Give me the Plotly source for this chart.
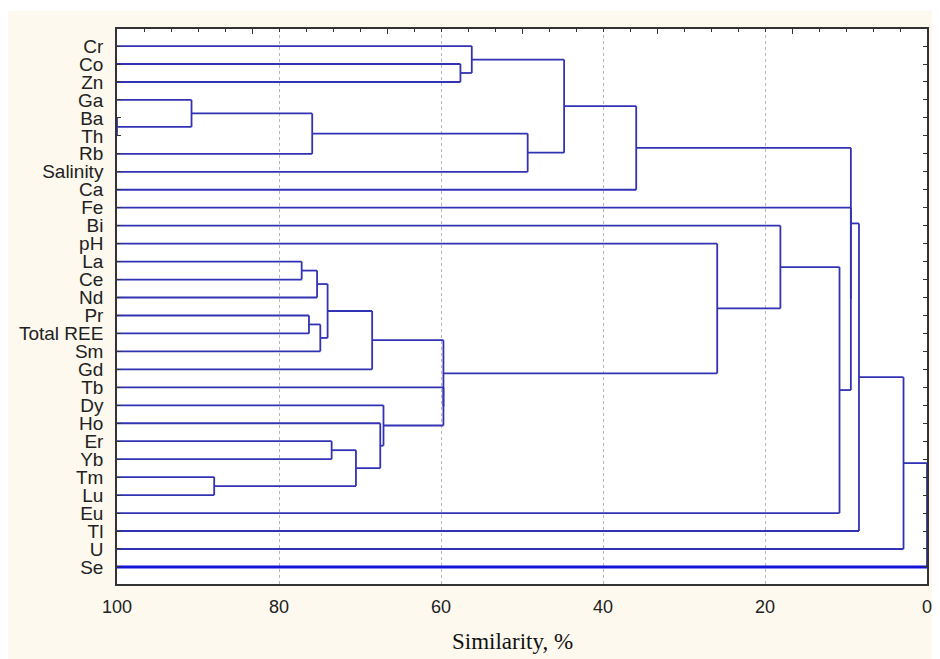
import plotly.graph_objects as go

# ---------------- data ----------------
leaves = ["Cr", "Co", "Zn", "Ga", "Ba", "Th", "Rb", "Salinity", "Ca", "Fe", "Bi", "pH",
          "La", "Ce", "Nd", "Pr", "Total REE", "Sm", "Gd", "Tb", "Dy", "Ho", "Er", "Yb",
          "Tm", "Lu", "Eu", "Tl", "U", "Se"]

# merges: node k joins merge_left[k] and merge_right[k] at merge_similarity[k] (%)
merge_left = ["Ba", "Ga", "n1", "n2", "Co", "Cr", "n5", "n6",
              "La", "n8", "Pr", "n10", "n9", "n12", "Er", "Tm", "n14", "Ho", "Dy", "Tb", "n13",
              "pH", "Bi", "n22", "Fe", "n7", "n25", "n26", "n27"]
merge_right = ["Th", "n0", "Rb", "Salinity", "Zn", "n4", "n3", "Ca",
               "Ce", "Nd", "Total REE", "Sm", "n11", "Gd", "Yb", "Lu", "n15", "n16", "n17", "n18", "n19",
               "n20", "n21", "Eu", "n23", "n24", "Tl", "U", "Se"]
merge_similarity = [100.0, 90.8, 75.9, 49.3, 57.6, 56.2, 44.8, 35.9,
                    77.2, 75.3, 76.3, 74.9, 74.0, 68.5, 73.5, 88.0, 70.5, 67.5, 67.1, 59.7, 59.7,
                    25.9, 18.1, 10.8, 9.4, 9.4, 8.4, 2.9, 0.0]

x_ticks = [100, 80, 60, 40, 20, 0]
x_title = "Similarity, %"

# ---------------- build dendrogram segments ----------------
pos_y = {name: i for i, name in enumerate(leaves)}
pos_x = {name: 100.0 for name in leaves}

seg_x, seg_y = [], []
thick_x, thick_y = [], []
for k, (a, b, s) in enumerate(zip(merge_left, merge_right, merge_similarity)):
    for child in (a, b):
        xs = [pos_x[child], s, None]
        ys = [pos_y[child], pos_y[child], None]
        if child == "Se":
            thick_x += xs
            thick_y += ys
        else:
            seg_x += xs
            seg_y += ys
    seg_x += [s, s, None]
    seg_y += [pos_y[a], pos_y[b], None]
    node = f"n{k}"
    pos_y[node] = (pos_y[a] + pos_y[b]) / 2
    pos_x[node] = s

fig = go.Figure()
fig.add_trace(go.Scatter(x=seg_x, y=seg_y, mode="lines",
                         line=dict(color="#3232b4", width=1.8),
                         hoverinfo="skip", showlegend=False))
fig.add_trace(go.Scatter(x=thick_x, y=thick_y, mode="lines",
                         line=dict(color="#1414d8", width=3),
                         hoverinfo="skip", showlegend=False))
# invisible trace for top axis
fig.add_trace(go.Scatter(x=[50], y=[0], xaxis="x2", mode="markers",
                         marker=dict(opacity=0), hoverinfo="skip", showlegend=False))

OFF = 8  # page body margin
W, H = 940 - OFF, 659 - OFF
PL, PR, PT, PB = 117, 927, 29, 584  # plot area in page pixels
L, T = PL - OFF, PT - OFF
R, B = OFF + W - PR, OFF + H - PB
pw, ph = PR - PL, PB - PT


def px2paper_x(px):
    return (px - PL) / pw


def py2paper_y(py):
    return (PB - py) / ph


fig.update_layout(
    width=W, height=H,
    margin=dict(l=L, r=R, t=T, b=B, pad=0, autoexpand=False),
    paper_bgcolor="#fdf9ef",
    plot_bgcolor="#ffffff",
    font=dict(family="Liberation Sans, Arial, sans-serif", color="#222222"),
    xaxis=dict(range=[100, 0], tickmode="array", tickvals=x_ticks,
               ticktext=[str(v) for v in x_ticks], automargin=False,
               ticklabeloverflow="allow",
               showgrid=True, gridcolor="#b8b8b8", griddash="dot", gridwidth=1,
               zeroline=False, showline=True, linecolor="#333333", linewidth=1.6,
               ticks="", tickfont=dict(size=18, color="#222222"), ticklabelstandoff=6),
    xaxis2=dict(range=[100, 0], overlaying="x", side="top", tickmode="linear",
                tick0=0, dtick=100 / 6, ticks="inside", ticklen=5, tickcolor="#333333",
                showticklabels=False, showgrid=False, zeroline=False, automargin=False,
                showline=True, linecolor="#333333", linewidth=1.6,
                minor=dict(dtick=100 / 30, tick0=0, ticks="inside", ticklen=3, tickcolor="#333333")),
    yaxis=dict(range=[29.95, -0.95], tickmode="array", tickvals=list(range(len(leaves))),
               ticktext=leaves, ticks="inside", ticklen=4, tickcolor="#333333",
               mirror="ticks", showline=True, linecolor="#333333", linewidth=1.6,
               showgrid=False, zeroline=False, automargin=False,
               tickfont=dict(size=19, color="#222222"), ticklabelstandoff=8),
)

# thin white strip along the top edge of the page (reference frame starts a bit lower)
fig.add_shape(type="rect", xref="paper", yref="paper",
              x0=px2paper_x(OFF), x1=px2paper_x(OFF + W),
              y0=py2paper_y(11), y1=py2paper_y(OFF),
              fillcolor="#ffffff", line=dict(width=0), layer="below")

fig.add_annotation(text=x_title, xref="paper", yref="paper",
                   x=px2paper_x(512), y=py2paper_y(641), xanchor="center", yanchor="middle",
                   showarrow=False,
                   font=dict(family="Liberation Serif, Times New Roman, serif", size=23, color="#111111"))

fig.write_html("out.html")
